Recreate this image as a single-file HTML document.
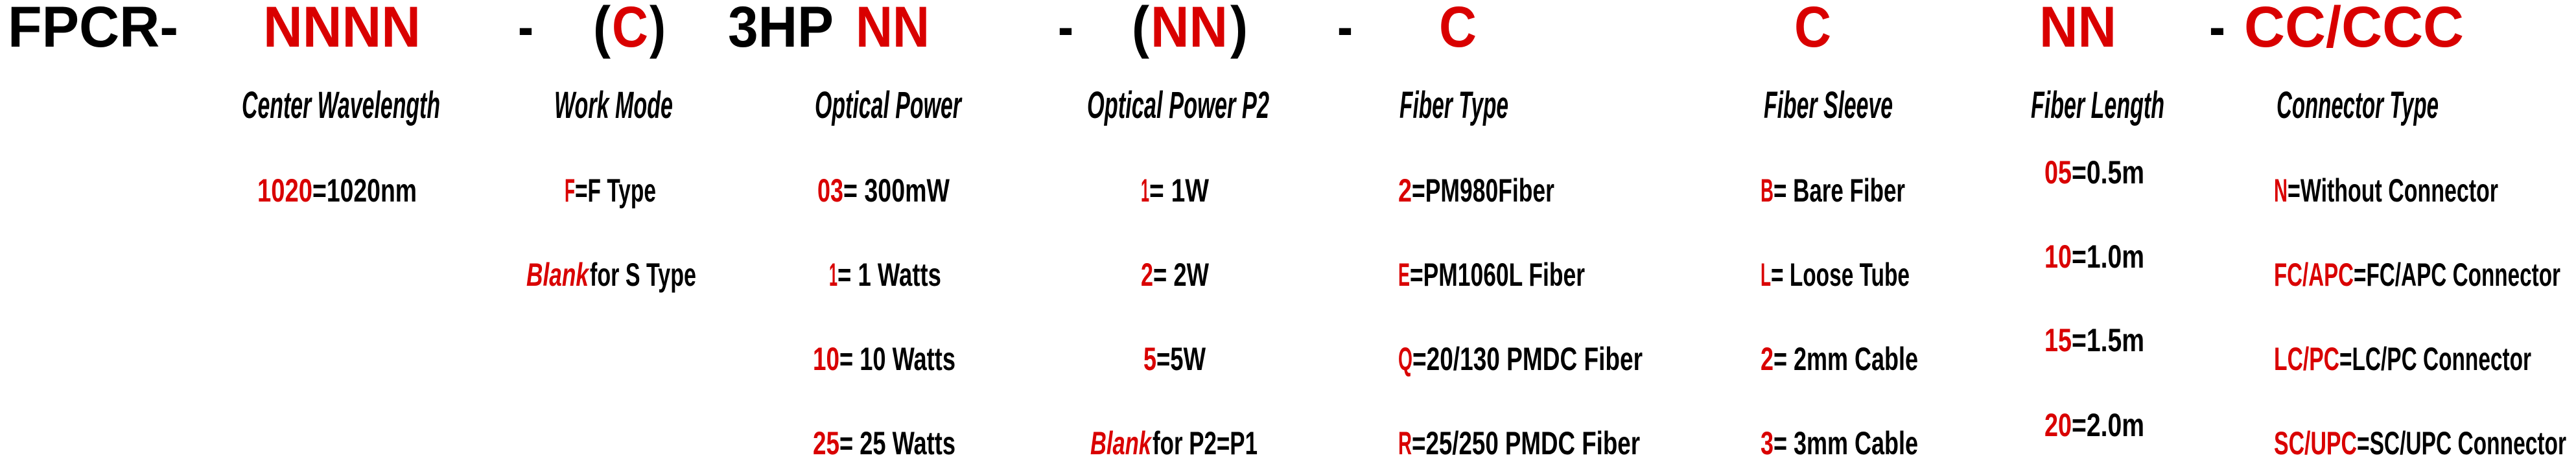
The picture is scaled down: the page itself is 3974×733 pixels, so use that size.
<!DOCTYPE html>
<html><head><meta charset="utf-8"><style>
html,body{margin:0;padding:0;background:#fff;width:3974px;height:733px;overflow:hidden}
svg{display:block}
.h{font-family:"Liberation Sans",sans-serif;font-weight:bold;font-size:89px}
.t{font-family:"Liberation Sans Narrow","Liberation Sans",sans-serif;font-weight:bold;font-style:italic;font-size:58px}
.b{font-family:"Liberation Sans Narrow","Liberation Sans",sans-serif;font-weight:bold;font-size:50px}
.r{fill:#d90000}
.k{fill:#000}
</style></head><body>
<svg width="3974" height="733" xmlns="http://www.w3.org/2000/svg">
<g class="h">
<text class="k" x="12" y="72" textLength="263" lengthAdjust="spacingAndGlyphs">FPCR-</text>
<text class="r" x="406" y="72" textLength="243" lengthAdjust="spacingAndGlyphs">NNNN</text>
<text class="k" x="799" y="72" textLength="24" lengthAdjust="spacingAndGlyphs">-</text>
<text class="k" x="915" y="72" textLength="27" lengthAdjust="spacingAndGlyphs">(</text>
<text class="r" x="944" y="72" textLength="56" lengthAdjust="spacingAndGlyphs">C</text>
<text class="k" x="1002" y="72" textLength="25" lengthAdjust="spacingAndGlyphs">)</text>
<text class="k" x="1123" y="72" textLength="163" lengthAdjust="spacingAndGlyphs">3HP</text>
<text class="r" x="1320" y="72" textLength="114" lengthAdjust="spacingAndGlyphs">NN</text>
<text class="k" x="1632" y="72" textLength="24" lengthAdjust="spacingAndGlyphs">-</text>
<text class="k" x="1746" y="72" textLength="27" lengthAdjust="spacingAndGlyphs">(</text>
<text class="r" x="1775" y="72" textLength="119" lengthAdjust="spacingAndGlyphs">NN</text>
<text class="k" x="1898" y="72" textLength="27" lengthAdjust="spacingAndGlyphs">)</text>
<text class="k" x="2063" y="72" textLength="24" lengthAdjust="spacingAndGlyphs">-</text>
<text class="r" x="2220" y="72" textLength="58" lengthAdjust="spacingAndGlyphs">C</text>
<text class="r" x="2768" y="72" textLength="57" lengthAdjust="spacingAndGlyphs">C</text>
<text class="r" x="3146" y="72" textLength="119" lengthAdjust="spacingAndGlyphs">NN</text>
<text class="k" x="3408" y="72" textLength="25" lengthAdjust="spacingAndGlyphs">-</text>
<text class="r" x="3462" y="72" textLength="339" lengthAdjust="spacingAndGlyphs">CC/CCC</text>
</g>
<g class="t k">
<text x="373" y="182" textLength="306" lengthAdjust="spacingAndGlyphs">Center Wavelength</text>
<text x="855" y="182" textLength="183" lengthAdjust="spacingAndGlyphs">Work Mode</text>
<text x="1257" y="182" textLength="226" lengthAdjust="spacingAndGlyphs">Optical Power</text>
<text x="1677" y="182" textLength="281" lengthAdjust="spacingAndGlyphs">Optical Power P2</text>
<text x="2159" y="182" textLength="168" lengthAdjust="spacingAndGlyphs">Fiber Type</text>
<text x="2721" y="182" textLength="199" lengthAdjust="spacingAndGlyphs">Fiber Sleeve</text>
<text x="3133" y="182" textLength="206" lengthAdjust="spacingAndGlyphs">Fiber Length</text>
<text x="3512" y="182" textLength="250" lengthAdjust="spacingAndGlyphs">Connector Type</text>
</g>
<g class="b">
<!-- Center wavelength -->
<text class="r" x="397" y="311" textLength="85" lengthAdjust="spacingAndGlyphs">1020</text>
<text class="k" x="482" y="311" textLength="161" lengthAdjust="spacingAndGlyphs">=1020nm</text>
<!-- Work mode -->
<text class="r" x="871" y="311" textLength="16" lengthAdjust="spacingAndGlyphs">F</text>
<text class="k" x="887" y="311" textLength="125" lengthAdjust="spacingAndGlyphs">=F Type</text>
<text class="r" x="812" y="441" textLength="96" lengthAdjust="spacingAndGlyphs" font-style="italic">Blank</text>
<text class="k" x="910" y="441" textLength="164" lengthAdjust="spacingAndGlyphs">for S Type</text>
<!-- Optical power -->
<text class="r" x="1261" y="311" textLength="40" lengthAdjust="spacingAndGlyphs">03</text>
<text class="k" x="1301" y="311" textLength="164" lengthAdjust="spacingAndGlyphs">= 300mW</text>
<text class="r" x="1279" y="441" textLength="13" lengthAdjust="spacingAndGlyphs">1</text>
<text class="k" x="1292" y="441" textLength="160" lengthAdjust="spacingAndGlyphs">= 1 Watts</text>
<text class="r" x="1254" y="571" textLength="41" lengthAdjust="spacingAndGlyphs">10</text>
<text class="k" x="1295" y="571" textLength="179" lengthAdjust="spacingAndGlyphs">= 10 Watts</text>
<text class="r" x="1254" y="701" textLength="41" lengthAdjust="spacingAndGlyphs">25</text>
<text class="k" x="1295" y="701" textLength="179" lengthAdjust="spacingAndGlyphs">= 25 Watts</text>
<!-- Optical power P2 -->
<text class="r" x="1760" y="311" textLength="13" lengthAdjust="spacingAndGlyphs">1</text>
<text class="k" x="1773" y="311" textLength="92" lengthAdjust="spacingAndGlyphs">= 1W</text>
<text class="r" x="1760" y="441" textLength="19" lengthAdjust="spacingAndGlyphs">2</text>
<text class="k" x="1779" y="441" textLength="86" lengthAdjust="spacingAndGlyphs">= 2W</text>
<text class="r" x="1764" y="571" textLength="20" lengthAdjust="spacingAndGlyphs">5</text>
<text class="k" x="1784" y="571" textLength="76" lengthAdjust="spacingAndGlyphs">=5W</text>
<text class="r" x="1682" y="701" textLength="94" lengthAdjust="spacingAndGlyphs" font-style="italic">Blank</text>
<text class="k" x="1778" y="701" textLength="162" lengthAdjust="spacingAndGlyphs">for P2=P1</text>
<!-- Fiber type -->
<text class="r" x="2157" y="311" textLength="21" lengthAdjust="spacingAndGlyphs">2</text>
<text class="k" x="2178" y="311" textLength="220" lengthAdjust="spacingAndGlyphs">=PM980Fiber</text>
<text class="r" x="2157" y="441" textLength="18" lengthAdjust="spacingAndGlyphs">E</text>
<text class="k" x="2175" y="441" textLength="270" lengthAdjust="spacingAndGlyphs">=PM1060L Fiber</text>
<text class="r" x="2157" y="571" textLength="22" lengthAdjust="spacingAndGlyphs">Q</text>
<text class="k" x="2179" y="571" textLength="355" lengthAdjust="spacingAndGlyphs">=20/130 PMDC Fiber</text>
<text class="r" x="2157" y="701" textLength="21" lengthAdjust="spacingAndGlyphs">R</text>
<text class="k" x="2178" y="701" textLength="352" lengthAdjust="spacingAndGlyphs">=25/250 PMDC Fiber</text>
<!-- Fiber sleeve -->
<text class="r" x="2716" y="311" textLength="20" lengthAdjust="spacingAndGlyphs">B</text>
<text class="k" x="2736" y="311" textLength="203" lengthAdjust="spacingAndGlyphs">= Bare Fiber</text>
<text class="r" x="2716" y="441" textLength="16" lengthAdjust="spacingAndGlyphs">L</text>
<text class="k" x="2732" y="441" textLength="214" lengthAdjust="spacingAndGlyphs">= Loose Tube</text>
<text class="r" x="2716" y="571" textLength="20" lengthAdjust="spacingAndGlyphs">2</text>
<text class="k" x="2736" y="571" textLength="223" lengthAdjust="spacingAndGlyphs">= 2mm Cable</text>
<text class="r" x="2716" y="701" textLength="20" lengthAdjust="spacingAndGlyphs">3</text>
<text class="k" x="2736" y="701" textLength="223" lengthAdjust="spacingAndGlyphs">= 3mm Cable</text>
<!-- Fiber length -->
<text class="r" x="3154" y="283" textLength="42" lengthAdjust="spacingAndGlyphs">05</text>
<text class="k" x="3196" y="283" textLength="112" lengthAdjust="spacingAndGlyphs">=0.5m</text>
<text class="r" x="3154" y="413" textLength="42" lengthAdjust="spacingAndGlyphs">10</text>
<text class="k" x="3196" y="413" textLength="112" lengthAdjust="spacingAndGlyphs">=1.0m</text>
<text class="r" x="3154" y="542" textLength="42" lengthAdjust="spacingAndGlyphs">15</text>
<text class="k" x="3196" y="542" textLength="112" lengthAdjust="spacingAndGlyphs">=1.5m</text>
<text class="r" x="3154" y="673" textLength="42" lengthAdjust="spacingAndGlyphs">20</text>
<text class="k" x="3196" y="673" textLength="112" lengthAdjust="spacingAndGlyphs">=2.0m</text>
<!-- Connector type -->
<text class="r" x="3508" y="311" textLength="21" lengthAdjust="spacingAndGlyphs">N</text>
<text class="k" x="3529" y="311" textLength="325" lengthAdjust="spacingAndGlyphs">=Without Connector</text>
<text class="r" x="3508" y="441" textLength="123" lengthAdjust="spacingAndGlyphs">FC/APC</text>
<text class="k" x="3631" y="441" textLength="319" lengthAdjust="spacingAndGlyphs">=FC/APC Connector</text>
<text class="r" x="3508" y="571" textLength="101" lengthAdjust="spacingAndGlyphs">LC/PC</text>
<text class="k" x="3609" y="571" textLength="296" lengthAdjust="spacingAndGlyphs">=LC/PC Connector</text>
<text class="r" x="3508" y="701" textLength="128" lengthAdjust="spacingAndGlyphs">SC/UPC</text>
<text class="k" x="3636" y="701" textLength="323" lengthAdjust="spacingAndGlyphs">=SC/UPC Connector</text>
</g>
</svg>
</body></html>
